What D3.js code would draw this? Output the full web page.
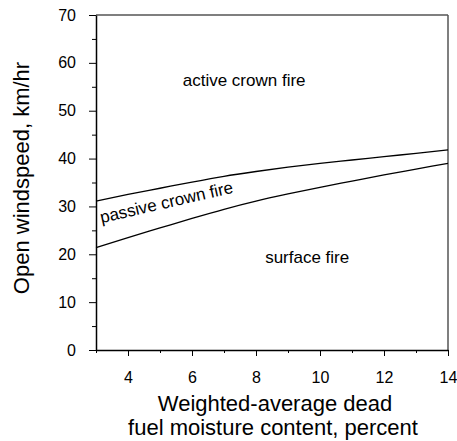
<!DOCTYPE html>
<html>
<head>
<meta charset="utf-8">
<script src="https://cdn.jsdelivr.net/npm/d3@7"></script>
<style>
  body { margin: 0; background: #fff; }
  svg { display: block; font-family: "Liberation Sans", Arial, sans-serif; }
  .axis path, .axis line { stroke: #000; }
  .axis text { font-size: 16px; fill: #000; }
</style>
</head>
<body>
<svg id="chart" width="457" height="441"></svg>
<script>
// moisture content (%), x
const moisture = [3, 4, 5, 6, 7, 8, 9, 10, 11, 12, 13, 14];
// windspeed above which fire goes active crown
const activeLimit = [31.1, 32.5, 33.8, 35.1, 36.3, 37.3, 38.2, 39.0, 39.7, 40.4, 41.1, 41.8];
// windspeed above which passive crown fire starts
const passiveLimit = [21.4, 23.5, 25.5, 27.5, 29.4, 31.1, 32.6, 34.0, 35.3, 36.6, 37.8, 39.0];

const xTicks = [4, 6, 8, 10, 12, 14];
const xMinor = [3, 5, 7, 9, 11, 13];
const yTicks = [0, 10, 20, 30, 40, 50, 60, 70];
const yMinor = [5, 15, 25, 35, 45, 55, 65];

const regions = [
  { label: "active crown fire", x: 7.63, y: 55.2 },
  { label: "surface fire", x: 9.6, y: 18.2 }
];

const margin = { top: 15, right: 9, bottom: 91, left: 96 };
const W = 457, H = 441;
const w = W - margin.left - margin.right;
const h = H - margin.top - margin.bottom;

const svg = d3.select("#chart");
const g = svg.append("g").attr("transform", `translate(${margin.left},${margin.top})`);

const x = d3.scaleLinear().domain([3, 14]).range([0, w]);
const y = d3.scaleLinear().domain([0, 70]).range([h, 0]);

// frame top / right (grey)
g.append("line").attr("x1", 0).attr("x2", w).attr("y1", 0).attr("y2", 0)
  .attr("stroke", "#555").attr("stroke-width", 1.5);
g.append("line").attr("x1", w).attr("x2", w).attr("y1", 0).attr("y2", h)
  .attr("stroke", "#555").attr("stroke-width", 1.5);

// minor ticks
g.append("g").attr("class", "axis")
  .attr("transform", `translate(0,${h})`)
  .call(d3.axisBottom(x).tickValues(xMinor).tickSize(3).tickFormat(""))
  .call(s => s.select(".domain").remove());
g.append("g").attr("class", "axis")
  .call(d3.axisLeft(y).tickValues(yMinor).tickSize(4).tickFormat(""))
  .call(s => s.select(".domain").remove());

// major axes
const xAxis = g.append("g").attr("class", "axis")
  .attr("transform", `translate(0,${h})`)
  .call(d3.axisBottom(x).tickValues(xTicks).tickSize(6).tickPadding(16).tickSizeOuter(0));
const yAxis = g.append("g").attr("class", "axis")
  .call(d3.axisLeft(y).tickValues(yTicks).tickSize(7).tickPadding(13).tickSizeOuter(0));
xAxis.select(".domain").attr("stroke-width", 1.5);
yAxis.select(".domain").attr("stroke-width", 1.5);

// boundary curves
const line = d3.line()
  .x((d, i) => x(moisture[i]))
  .y(d => y(d))
  .curve(d3.curveMonotoneX);

[activeLimit, passiveLimit].forEach(series => {
  g.append("path")
    .datum(series)
    .attr("d", line)
    .attr("fill", "none")
    .attr("stroke", "#000")
    .attr("stroke-width", 1.3);
});

// region labels
g.selectAll(".region")
  .data(regions)
  .enter().append("text")
  .attr("class", "region")
  .attr("x", d => x(d.x))
  .attr("y", d => y(d.y))
  .attr("text-anchor", "middle")
  .attr("font-size", 17)
  .text(d => d.label);

g.append("text")
  .attr("transform", `translate(${x(3.17)},${y(26.5)}) rotate(-13)`)
  .attr("font-size", 17)
  .text("passive crown fire");

// axis titles
svg.append("text")
  .attr("transform", `translate(29,178) rotate(-90)`)
  .attr("text-anchor", "middle")
  .attr("font-size", 22)
  .text("Open windspeed, km/hr");

svg.append("text")
  .attr("x", 275)
  .attr("y", 411)
  .attr("text-anchor", "middle")
  .attr("font-size", 22)
  .text("Weighted-average dead");
svg.append("text")
  .attr("x", 273)
  .attr("y", 435)
  .attr("text-anchor", "middle")
  .attr("font-size", 22)
  .text("fuel moisture content, percent");
</script>
</body>
</html>
